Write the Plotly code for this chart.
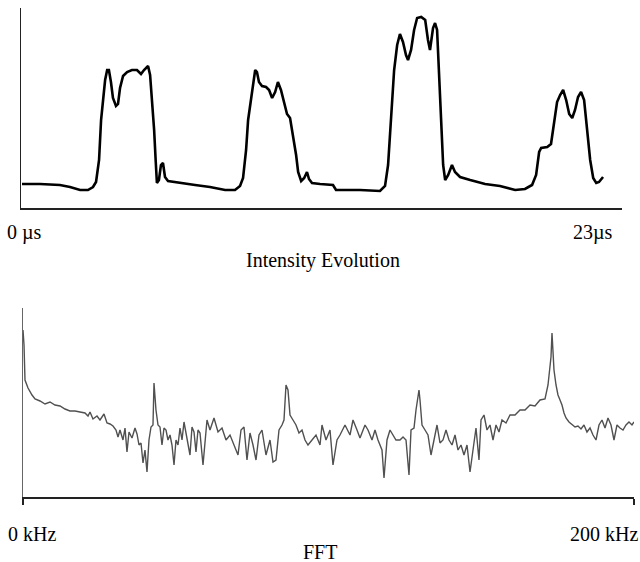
import plotly.graph_objects as go

# Intensity evolution (time in microseconds, intensity in arbitrary units)
time_us = [0.00, 0.71, 1.50, 1.90, 2.30, 2.61, 2.81, 2.93, 3.05, 3.13, 3.21, 3.29, 3.37, 3.44, 3.52,
           3.60, 3.72, 3.80, 3.88, 4.00, 4.16, 4.35, 4.55, 4.71, 4.83, 4.99, 5.07, 5.15, 5.23, 5.29,
           5.34, 5.42, 5.50, 5.58, 5.66, 5.78, 6.26, 6.85, 7.44, 8.04, 8.43, 8.63, 8.75, 8.87, 8.95,
           9.07, 9.15, 9.23, 9.30, 9.38, 9.50, 9.66, 9.78, 9.90, 10.02, 10.13, 10.25, 10.37, 10.49,
           10.61, 10.73, 10.85, 10.93, 11.05, 11.17, 11.28, 11.36, 11.48, 11.80, 12.31, 12.43, 12.79,
           13.38, 14.17, 14.37, 14.49, 14.61, 14.73, 14.85, 14.96, 15.08, 15.20, 15.28, 15.40, 15.52,
           15.64, 15.80, 15.96, 16.07, 16.15, 16.27, 16.35, 16.43, 16.51, 16.59, 16.67, 16.75, 16.87,
           17.02, 17.14, 17.34, 17.74, 18.33, 18.92, 19.52, 19.91, 20.19, 20.35, 20.47, 20.55, 20.79,
           20.94, 21.06, 21.18, 21.30, 21.42, 21.54, 21.66, 21.78, 21.89, 22.01, 22.13, 22.25, 22.37,
           22.49, 22.61, 22.73, 22.84, 23.00]
intensity = [24, 24, 23, 21, 18, 18, 21, 26, 48, 88, 108, 128, 138, 138, 126,
             110, 102, 104, 120, 132, 136, 138, 138, 134, 138, 142, 133, 108, 78, 48,
             25, 28, 43, 45, 31, 27, 25, 23, 21, 18, 18, 22, 30, 58, 88,
             108, 123, 138, 136, 126, 122, 121, 118, 110, 116, 126, 118, 106, 94,
             90, 73, 53, 36, 27, 30, 36, 29, 25, 24, 23, 18, 18,
             18, 17, 22, 43, 88, 138, 163, 174, 166, 153, 148, 158, 178,
             190, 191, 188, 168, 158, 180, 185, 178, 138, 88, 43, 28, 33,
             43, 36, 31, 28, 24, 22, 18, 19, 23, 33, 56, 60, 61,
             64, 83, 106, 113, 118, 108, 94, 90, 98, 111, 116, 108, 78,
             48, 30, 25, 26, 31]

# FFT (frequency in kHz, amplitude in arbitrary units)
freq_khz = [0.0, 0.33, 0.65, 0.98, 1.64, 2.95, 3.93, 5.56, 7.20, 8.84, 10.47, 12.11, 13.75, 15.38,
            17.02, 18.66, 20.29, 21.28, 21.93, 22.91, 24.22, 25.20, 26.51, 27.50, 28.48, 29.46, 30.44,
            31.10, 31.75, 32.73, 33.39, 34.04, 34.70, 35.68, 36.66, 37.32, 37.97, 38.63, 39.28, 39.93,
            40.59, 41.24, 41.90, 42.55, 42.88, 43.53, 44.19, 44.84, 45.50, 46.15, 46.81, 47.46, 48.12,
            48.77, 49.43, 50.08, 50.74, 51.39, 52.05, 52.70, 53.36, 54.01, 54.66, 55.32, 55.97, 56.63,
            57.28, 57.94, 58.92, 60.23, 61.21, 62.52, 63.83, 65.14, 66.45, 67.76, 69.07, 70.38, 71.36,
            72.34, 73.32, 74.30, 75.29, 76.27, 77.25, 78.23, 79.54, 80.85, 81.83, 82.81, 83.80, 84.78,
            85.43, 86.09, 86.74, 87.40, 88.38, 89.36, 90.34, 91.33, 92.31, 93.29, 94.60, 95.91, 97.22,
            97.87, 99.18, 100.49, 101.47, 102.78, 103.76, 105.40, 107.04, 108.02, 109.33, 110.31,
            111.95, 112.93, 114.24, 115.22, 116.20, 117.51, 118.17, 119.15, 120.13, 121.11, 122.09,
            123.40, 124.39, 125.37, 126.35, 127.01, 127.99, 128.64, 129.30, 129.62, 129.95, 130.61,
            131.59, 132.57, 133.55, 134.53, 135.52, 136.50, 137.48, 138.46, 139.44, 140.43, 141.41,
            142.39, 143.37, 144.35, 145.34, 146.32, 147.30, 148.28, 149.26, 149.92, 150.90, 151.88,
            152.86, 153.85, 154.83, 155.81, 156.79, 158.10, 159.41, 161.05, 162.68, 164.32, 165.96,
            167.59, 169.23, 170.87, 171.85, 172.50, 172.83, 173.16, 173.49, 173.81, 174.47, 175.12,
            175.78, 176.43, 177.09, 177.74, 178.72, 179.70, 180.69, 181.67, 182.65, 183.63, 184.61,
            185.60, 186.58, 187.56, 188.54, 189.52, 190.51, 191.49, 192.47, 193.45, 194.43, 195.41,
            196.40, 197.38, 198.36, 199.34, 200.0]
amplitude = [167, 152, 117, 114, 109, 102, 98, 96, 93, 95, 92, 91, 88, 86,
             86, 85, 84, 81, 85, 78, 81, 77, 83, 74, 73, 71, 67,
             60, 67, 57, 69, 45, 65, 59, 69, 63, 52, 54, 34, 47,
             25, 57, 70, 72, 114, 87, 72, 70, 52, 69, 67, 57, 62,
             52, 32, 57, 52, 69, 57, 75, 64, 54, 42, 70, 65, 45,
             67, 64, 32, 77, 67, 79, 65, 69, 57, 62, 52, 42, 67,
             70, 37, 64, 52, 37, 62, 67, 42, 57, 35, 37, 67, 72,
             77, 112, 107, 82, 77, 72, 64, 67, 57, 52, 57, 62, 52,
             72, 57, 67, 32, 57, 62, 72, 62, 77, 67, 59,
             72, 67, 57, 67, 57, 47, 19, 57, 67, 62, 57,
             57, 60, 57, 22, 67, 69, 87, 102, 107, 97, 72,
             67, 62, 42, 57, 72, 54, 57, 67, 57, 52, 62,
             47, 52, 42, 52, 25, 47, 69, 37, 77, 82, 67,
             72, 57, 72, 65, 77, 74, 82, 82, 87, 87, 92,
             91, 97, 98, 112, 127, 140, 164, 139, 127, 112, 102,
             97, 92, 84, 79, 75, 72, 70, 71, 68, 72, 65,
             69, 62, 57, 72, 77, 69, 79, 72, 57, 72, 69,
             67, 72, 75, 72, 75]

labels_top = ["0 µs", "23µs"]
labels_bottom = ["0 kHz", "200 kHz"]
titles = ["Intensity Evolution", "FFT"]

W, H = 640, 562


def X(px):
    return px / W


def Y(py):
    return 1 - py / H


font = dict(family="Liberation Serif, Times New Roman, serif", size=20, color="black")

fig = go.Figure()
fig.add_trace(go.Scatter(x=time_us, y=intensity, mode="lines",
                         line=dict(color="black", width=2.6), xaxis="x", yaxis="y",
                         showlegend=False, hoverinfo="skip"))
fig.add_trace(go.Scatter(x=freq_khz, y=amplitude, mode="lines",
                         line=dict(color="#505050", width=1.4), xaxis="x2", yaxis="y2",
                         showlegend=False, hoverinfo="skip"))

fig.update_layout(
    width=W, height=H,
    margin=dict(l=0, r=0, t=0, b=0),
    paper_bgcolor="white", plot_bgcolor="white",
    font=font,
    xaxis=dict(domain=[X(21), X(622)], range=[-0.04, 23.75], showgrid=False, zeroline=False,
               showline=True, linecolor="#222", linewidth=1.5, showticklabels=False, ticks="",
               anchor="y"),
    yaxis=dict(domain=[Y(208), Y(8)], range=[0, 200], showgrid=False, zeroline=False,
               showline=True, linecolor="#222", linewidth=1.5, showticklabels=False, ticks="",
               anchor="x"),
    xaxis2=dict(domain=[X(23), X(634)], range=[0, 200], showgrid=False, zeroline=False,
                showline=True, linecolor="#222", linewidth=1.5, showticklabels=False,
                tickvals=[0, 200], ticks="outside", ticklen=6, tickwidth=1.5, tickcolor="#222",
                anchor="y2"),
    yaxis2=dict(domain=[Y(497), Y(308)], range=[0, 189], showgrid=False, zeroline=False,
                showline=True, linecolor="#666", linewidth=1.5, showticklabels=False, ticks="",
                anchor="x2"),
)

ann = [
    dict(text=labels_top[0], x=X(7), y=Y(232), xanchor="left"),
    dict(text=labels_top[1], x=X(613), y=Y(232), xanchor="right"),
    dict(text=titles[0], x=X(323), y=Y(260), xanchor="center"),
    dict(text=labels_bottom[0], x=X(8), y=Y(534), xanchor="left"),
    dict(text=labels_bottom[1], x=X(638), y=Y(534), xanchor="right"),
    dict(text=titles[1], x=X(320), y=Y(552), xanchor="center"),
]
for a in ann:
    fig.add_annotation(xref="paper", yref="paper", yanchor="middle", showarrow=False,
                       borderpad=0, borderwidth=0, font=font, **a)

# Remove the default page margin so the figure fills the window exactly; hide the mode bar.
fig.write_html("out.html",
               config={"displayModeBar": False, "staticPlot": True},
               post_script="document.body.style.margin='0';document.body.style.overflow='hidden';")
